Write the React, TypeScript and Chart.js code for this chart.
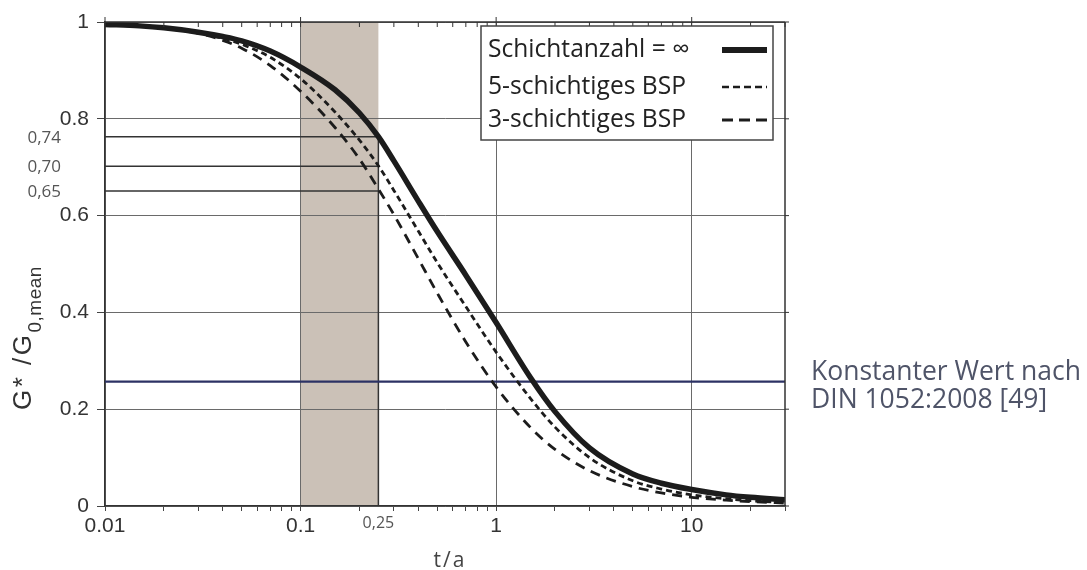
import React, { useEffect, useRef } from 'react';
import { Chart, registerables } from 'chart.js';

Chart.register(...registerables);

// ---- data ----
const T = [0.01, 0.015, 0.02, 0.03, 0.04, 0.05, 0.07, 0.1, 0.15, 0.2, 0.25, 0.3, 0.4, 0.5, 0.7, 1, 1.5, 2, 3, 5, 7, 10, 15, 20, 30];
const G_INF = [0.995, 0.992, 0.988, 0.979, 0.97, 0.961, 0.94, 0.907, 0.86, 0.812, 0.763, 0.713, 0.63, 0.567, 0.477, 0.379, 0.265, 0.195, 0.12, 0.066, 0.047, 0.034, 0.023, 0.018, 0.013];
const G_5 = [0.995, 0.991, 0.987, 0.977, 0.966, 0.954, 0.927, 0.883, 0.814, 0.756, 0.703, 0.652, 0.568, 0.503, 0.412, 0.318, 0.222, 0.163, 0.1, 0.052, 0.035, 0.023, 0.015, 0.011, 0.007];
const G_3 = [0.996, 0.993, 0.989, 0.977, 0.962, 0.946, 0.91, 0.857, 0.782, 0.717, 0.655, 0.602, 0.511, 0.44, 0.339, 0.246, 0.162, 0.117, 0.073, 0.04, 0.027, 0.018, 0.012, 0.009, 0.006];
const SERIES_NAMES = ['Schichtanzahl = \u221E', '5-schichtiges BSP', '3-schichtiges BSP'];

const X_MIN = 0.01;
const X_MAX = 30;
const BAND = [0.1, 0.25];
const REF_T = 0.25;
const REF_VALUES = [0.763, 0.702, 0.651];
const REF_LABELS = ['0,74', '0,70', '0,65'];
const DIN_VALUE = 0.257;
const DIN_TEXT = ['Konstanter Wert nach', 'DIN 1052:2008 [49]'];

const Y_TICKS = [0, 0.2, 0.4, 0.6, 0.8, 1];
const X_MAJOR = [0.01, 0.1, 1, 10];
const X_MAJOR_LABELS = ['0.01', '0.1', '1', '10'];
const X_MINOR = [0.02, 0.03, 0.04, 0.05, 0.06, 0.07, 0.08, 0.09, 0.2, 0.3, 0.4, 0.5, 0.6, 0.7, 0.8, 0.9, 2, 3, 4, 5, 6, 7, 8, 9, 20, 30];
const X_SPECIAL = 0.25;
const X_SPECIAL_LABEL = '0,25';
const X_TITLE = 't/a';
const Y_TITLE_MAIN = 'G* /G';
const Y_TITLE_SUB = '0,mean';

const INK = '#1c1c1c';
const GRID = '#6a6a6a';
const BAND_COLOR = '#cbc1b7';
const DIN_COLOR = '#2c3264';
const SOFT_TEXT = '#4f5468';
const GOTHIC = '"Open Sans", "DejaVu Sans", sans-serif';
const ARIAL = '"Liberation Sans", Arial, sans-serif';

function fitSize(ctx: CanvasRenderingContext2D, text: string, family: string, target: number) {
  ctx.font = `20px ${family}`;
  const w = ctx.measureText(text).width;
  return (20 * target) / w;
}

const isIn = (arr: number[], v: number) => arr.some((a) => Math.abs(a - v) < 1e-9);

const decor = {
  id: 'decor',
  beforeDraw(chart: any) {
    const { ctx, chartArea: a, scales } = chart;
    const x = scales.x;
    const x0 = x.getPixelForValue(BAND[0]);
    const x1 = x.getPixelForValue(BAND[1]);
    ctx.save();
    ctx.fillStyle = BAND_COLOR;
    ctx.fillRect(x0, a.top, x1 - x0, a.bottom - a.top);
    ctx.restore();
  },
  afterDraw(chart: any) {
    const { ctx, chartArea: a, scales } = chart;
    const x = scales.x;
    const y = scales.y;
    ctx.save();
    // right border + top border
    ctx.strokeStyle = '#333';
    ctx.lineWidth = 1.5;
    ctx.beginPath();
    ctx.moveTo(a.right, a.top);
    ctx.lineTo(a.right, a.bottom);
    ctx.moveTo(a.left, a.top);
    ctx.lineTo(a.right, a.top);
    ctx.stroke();
    // right ticks
    ctx.lineWidth = 1;
    ctx.beginPath();
    Y_TICKS.forEach((v) => {
      const py = y.getPixelForValue(v);
      ctx.moveTo(a.right, py);
      ctx.lineTo(a.right + 4, py);
    });
    // top ticks
    [...X_MAJOR, ...X_MINOR].forEach((v) => {
      const px = x.getPixelForValue(v);
      const major = isIn(X_MAJOR, v);
      ctx.moveTo(px, a.top + (major ? -5 : 0));
      ctx.lineTo(px, a.top + 5);
    });
    ctx.stroke();

    // reference labels
    ctx.fillStyle = '#555';
    ctx.font = `17px ${GOTHIC}`;
    ctx.textAlign = 'right';
    ctx.textBaseline = 'middle';
    REF_VALUES.forEach((v, i) => {
      ctx.fillText(REF_LABELS[i], 61, y.getPixelForValue(v) + 1);
    });

    // legend box
    const bx = 481, by = 26, bw = 292, bh = 114;
    ctx.fillStyle = '#fff';
    ctx.fillRect(bx, by, bw, bh);
    ctx.strokeStyle = '#444';
    ctx.lineWidth = 1.5;
    ctx.strokeRect(bx, by, bw, bh);
    const ls = fitSize(ctx, SERIES_NAMES[1], GOTHIC, 198);
    ctx.font = `${ls}px ${GOTHIC}`;
    ctx.fillStyle = '#222';
    ctx.textAlign = 'left';
    ctx.textBaseline = 'middle';
    const rows = [50, 87, 120];
    const styles = [
      { w: 6, d: [] as number[] },
      { w: 2.5, d: [7, 4] },
      { w: 2.8, d: [11, 6] },
    ];
    SERIES_NAMES.forEach((n, i) => {
      ctx.fillText(n, 488, rows[i]);
      ctx.strokeStyle = INK;
      ctx.lineWidth = styles[i].w;
      ctx.setLineDash(styles[i].d);
      ctx.beginPath();
      ctx.moveTo(722, rows[i]);
      ctx.lineTo(767, rows[i]);
      ctx.stroke();
    });
    ctx.setLineDash([]);

    // y title
    ctx.save();
    ctx.translate(31, 410);
    ctx.rotate(-Math.PI / 2);
    ctx.fillStyle = '#333';
    ctx.textAlign = 'left';
    ctx.textBaseline = 'alphabetic';
    ctx.font = `26px ${ARIAL}`;
    (ctx as any).letterSpacing = '2.5px';
    ctx.fillText(Y_TITLE_MAIN, 0, 0);
    const mw = ctx.measureText(Y_TITLE_MAIN).width;
    ctx.font = `19px ${ARIAL}`;
    (ctx as any).letterSpacing = '0.5px';
    ctx.fillText(Y_TITLE_SUB, mw, 10);
    (ctx as any).letterSpacing = '0px';
    ctx.restore();

    // x title
    ctx.fillStyle = '#444';
    ctx.font = `21px ${GOTHIC}`;
    (ctx as any).letterSpacing = '2px';
    ctx.textAlign = 'center';
    ctx.textBaseline = 'middle';
    ctx.fillText(X_TITLE, 450, 561);
    (ctx as any).letterSpacing = '0px';

    // DIN text
    const ds = fitSize(ctx, DIN_TEXT[0], GOTHIC, 270);
    ctx.font = `${ds}px ${GOTHIC}`;
    ctx.fillStyle = SOFT_TEXT;
    ctx.textAlign = 'left';
    ctx.textBaseline = 'middle';
    ctx.fillText(DIN_TEXT[0], 811, 372);
    ctx.fillText(DIN_TEXT[1], 811, 400);
    ctx.restore();
  },
};

export default function App() {
  const ref = useRef<HTMLCanvasElement | null>(null);
  useEffect(() => {
    const canvas = ref.current;
    if (!canvas) return;
    const pts = (ys: number[]) => T.map((t, i) => ({ x: t, y: ys[i] }));
    const line = (extra: any) => ({
      pointRadius: 0,
      fill: false,
      ...extra,
    });
    const chart = new Chart(canvas, {
      type: 'line',
      data: {
        datasets: [
          line({ label: SERIES_NAMES[0], data: pts(G_INF), borderColor: INK, borderWidth: 5.5, cubicInterpolationMode: 'monotone', order: 1 }),
          line({ label: SERIES_NAMES[1], data: pts(G_5), borderColor: INK, borderWidth: 2.8, borderDash: [6, 4], cubicInterpolationMode: 'monotone', order: 2 }),
          line({ label: SERIES_NAMES[2], data: pts(G_3), borderColor: INK, borderWidth: 2.8, borderDash: [10, 7], cubicInterpolationMode: 'monotone', order: 3 }),
          ...REF_VALUES.map((v) =>
            line({ data: [{ x: X_MIN, y: v }, { x: REF_T, y: v }], borderColor: '#333', borderWidth: 1.5, order: 6 })
          ),
          line({ data: [{ x: REF_T, y: 0 }, { x: REF_T, y: REF_VALUES[0] }], borderColor: '#333', borderWidth: 1.5, order: 6 }),
          line({ data: [{ x: X_MIN, y: DIN_VALUE }, { x: X_MAX, y: DIN_VALUE }], borderColor: DIN_COLOR, borderWidth: 2.2, order: 5 }),
        ],
      },
      options: {
        responsive: false,
        animation: false,
        events: [],
        layout: { padding: { top: 22, right: 302, left: 0, bottom: 0 } },
        plugins: { legend: { display: false }, tooltip: { enabled: false } },
        scales: {
          x: {
            type: 'logarithmic',
            min: X_MIN,
            max: X_MAX,
            afterBuildTicks: (s: any) => {
              s.ticks = [...X_MAJOR, ...X_MINOR, X_SPECIAL].sort((a, b) => a - b).map((v) => ({ value: v }));
            },
            afterFit: (s: any) => {
              s.height = 64;
            },
            ticks: {
              autoSkip: false,
              maxRotation: 0,
              minRotation: 0,
              padding: 3,
              callback: (v: any) => {
                const val = Number(v);
                if (Math.abs(val - X_SPECIAL) < 1e-9) return X_SPECIAL_LABEL;
                const i = X_MAJOR.findIndex((m) => Math.abs(m - val) < 1e-9);
                return i >= 0 ? X_MAJOR_LABELS[i] : '';
              },
              font: (c: any) =>
                c.tick && Math.abs(c.tick.value - X_SPECIAL) < 1e-9
                  ? { family: GOTHIC, size: 16 }
                  : { family: ARIAL, size: 21 },
              color: (c: any) => (c.tick && Math.abs(c.tick.value - X_SPECIAL) < 1e-9 ? '#555' : '#333'),
            },
            grid: {
              lineWidth: 1,
              tickLength: 5,
              color: (c: any) => (c.tick && isIn(X_MAJOR, c.tick.value) ? GRID : 'rgba(0,0,0,0)'),
              tickColor: (c: any) => (c.tick && Math.abs(c.tick.value - X_SPECIAL) < 1e-9 ? 'rgba(0,0,0,0)' : '#444'),
            },
            border: { color: '#333', width: 1.5 },
          },
          y: {
            type: 'linear',
            min: 0,
            max: 1,
            afterBuildTicks: (s: any) => {
              s.ticks = Y_TICKS.map((v) => ({ value: v }));
            },
            afterFit: (s: any) => {
              s.width = 105;
            },
            ticks: {
              padding: 8,
              callback: (v: any) => String(v),
              font: { family: ARIAL, size: 21 },
              color: '#333',
            },
            grid: { color: GRID, lineWidth: 1, tickLength: 8, tickColor: '#444' },
            border: { color: '#333', width: 1.5 },
          },
        },
      },
      plugins: [decor],
    } as any);
    return () => chart.destroy();
  }, []);
  return (
    <div style={{ position: 'absolute', left: 0, top: 0, width: 1087, height: 570, background: '#fff' }}>
      <canvas ref={ref} width={1087} height={570} />
    </div>
  );
}
